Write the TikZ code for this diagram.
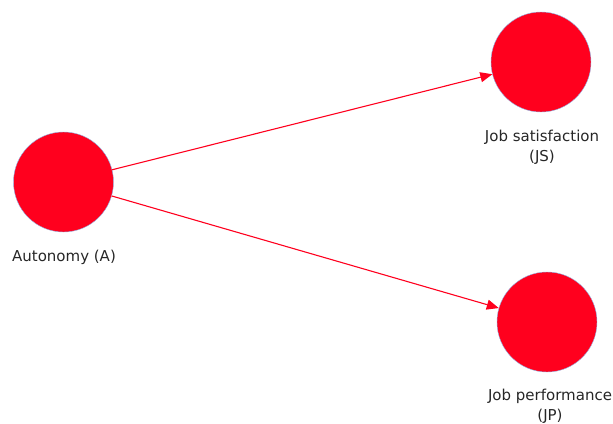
\documentclass[tikz,border=0pt]{standalone}
\usepackage{fontspec}
\setmainfont{DejaVu Sans}
\usetikzlibrary{arrows.meta}
\definecolor{nodered}{RGB}{255,0,30}
\definecolor{rimblue}{RGB}{140,180,230}

\begin{document}
\begin{tikzpicture}[x=1pt,y=-1pt,
	var/.style={draw=rimblue,fill=nodered,circle,thin,minimum size=100pt,inner sep=0pt},
	lbl/.style={font=\fontsize{15}{20}\selectfont,align=center,text=black!85},
	path/.style={nodered,line width=1.1pt,-{Triangle[length=12pt,width=10pt]}}]
	\useasboundingbox (0,0) rectangle (613,423);
	\coordinate (a) at (63.5,182);
	\coordinate (js) at (541,62);
	\coordinate (jp) at (547,322);
	\node[var] (A) at (a){};
	\node[var] (JS) at (js){};
	\node[var] (JP) at (jp){};
	\node[lbl] (Alab) at (64,257){Autonomy (A)};
	\node[lbl] (JSlab) at (542,147){Job satisfaction\\(JS)};
	\node[lbl] (JPlab) at (550,406){Job performance\\(JP)};
	\draw[path] (A) -- (JS);
	\draw[path] (A) -- (JP);
\end{tikzpicture}
\end{document}
